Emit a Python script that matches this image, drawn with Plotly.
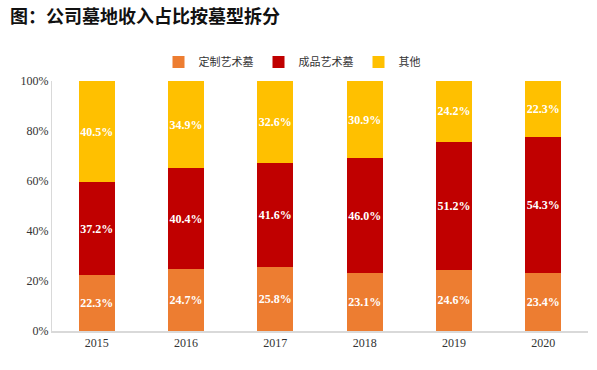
import plotly.graph_objects as go

years = ["2015", "2016", "2017", "2018", "2019", "2020"]
custom = [22.3, 24.7, 25.8, 23.1, 24.6, 23.4]
finished = [37.2, 40.4, 41.6, 46.0, 51.2, 54.3]
other = [40.5, 34.9, 32.6, 30.9, 24.2, 22.3]
names = ["定制艺术墓", "成品艺术墓", "其他"]
colors = ["#ED7D31", "#C00000", "#FFC000"]

W, H = 597, 370

fig = go.Figure()
for name, vals, col in zip(names, [custom, finished, other], colors):
    fig.add_trace(go.Bar(
        x=years, y=vals, name=name, marker=dict(color=col, line=dict(width=0)),
        text=[f"{v:.1f}%" for v in vals], textposition="inside",
        insidetextanchor="middle", textangle=0, constraintext="none",
        textfont=dict(family="Liberation Serif", size=12, color="white"),
        texttemplate="<b>%{text}</b>",
    ))

fig.update_layout(
    barmode="stack", bargap=0.6,
    width=W, height=H,
    margin=dict(l=52, r=9, t=81, b=39, autoexpand=False),
    plot_bgcolor="white", paper_bgcolor="white",
    font=dict(family="Liberation Serif", size=12, color="#333333"),
    legend=dict(orientation="h", x=292 / W, xanchor="center", xref="container",
                y=1 - 62 / H, yanchor="middle", yref="container",
                font=dict(family="Noto Sans CJK SC", size=11, color="#333333"),
                itemwidth=30, traceorder="normal"),
    title=dict(text="<b>图：公司墓地收入占比按墓型拆分</b>", x=10 / W, xanchor="left",
               xref="container", y=1 - 17 / H, yanchor="middle", yref="container",
               font=dict(family="Noto Sans CJK SC", size=18, color="#111111")),
)
fig.update_yaxes(range=[0, 100], tickvals=[0, 20, 40, 60, 80, 100],
                 ticktext=["0%", "20%", "40%", "60%", "80%", "100%"],
                 showgrid=False, showline=True, linecolor="#D9D9D9", linewidth=1,
                 ticks="", zeroline=False, tickfont=dict(size=12, color="#333333"))
fig.update_xaxes(showline=True, linecolor="#D9D9D9", linewidth=2, ticks="",
                 tickfont=dict(size=12, color="#333333"))

fig.write_html("out.html", config={"displayModeBar": False},
               post_script="document.body.style.margin='0';")
